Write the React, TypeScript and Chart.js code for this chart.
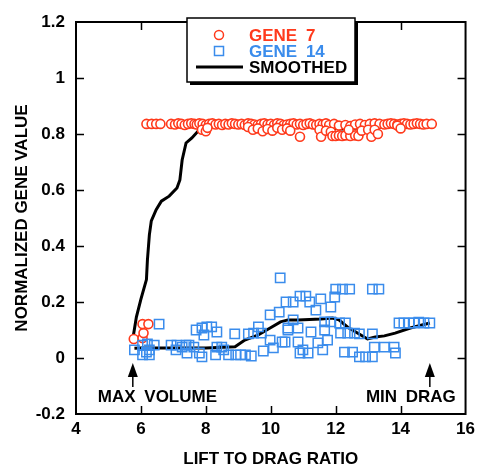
import React, { useEffect, useRef } from 'react';
import { Chart, registerables } from 'chart.js';

Chart.register(...registerables);

const RED = '#ff3a1c';
const BLUE = '#3a8cec';
const FONT = '"Liberation Sans", Arial, Helvetica, sans-serif';

// GENE 7 (red circles)
const gene7X = [
  5.78, 6.05, 6.08, 6.05, 6.23,
  6.17, 6.33, 6.47, 6.6,
  6.93, 7.05, 7.15, 7.25, 7.35, 7.45, 7.55, 7.65, 7.72, 7.8, 7.9, 8.0, 8.1, 8.2, 8.3, 8.4,
  8.5, 8.6, 8.7, 8.8, 8.9, 9.0, 9.1, 9.2, 9.3, 9.4, 9.5, 9.6, 9.7, 9.8, 9.9, 10.0,
  10.1, 10.2, 10.3, 10.4, 10.5, 10.6, 10.7, 10.8, 10.9, 11.0, 11.1, 11.2, 11.3, 11.4,
  11.5, 11.6, 11.7, 11.8, 11.95, 12.1, 12.3, 12.45, 12.6, 12.75, 12.9, 13.05, 13.2,
  13.35, 13.5, 13.6, 13.7, 13.8, 13.9, 14.0, 14.1, 14.2, 14.3, 14.4, 14.5, 14.6, 14.7,
  14.8, 14.96,
  7.88, 8.0, 8.05, 9.3, 9.45, 9.6, 9.75, 9.9, 10.05, 10.2, 10.35, 10.5, 10.6, 10.9,
  11.5, 11.55, 11.7, 11.85, 11.9, 12.0, 12.1, 12.2, 12.3, 12.45, 12.6, 12.7, 12.4,
  12.8, 13.0, 13.1, 13.2, 13.3, 13.9, 14.0,
];
const gene7Y = [
  0.068, 0.071, 0.089, 0.121, 0.121,
  0.836, 0.836, 0.836, 0.836,
  0.836, 0.834, 0.838, 0.836, 0.832, 0.836, 0.838, 0.836, 0.834, 0.838, 0.836, 0.832, 0.836, 0.838, 0.834, 0.836,
  0.832, 0.836, 0.834, 0.838, 0.836, 0.834, 0.836, 0.832, 0.838, 0.836, 0.834, 0.832, 0.836, 0.838, 0.834, 0.836,
  0.832, 0.838, 0.836, 0.832, 0.834, 0.836, 0.838, 0.834, 0.836, 0.832, 0.836, 0.838, 0.834, 0.832,
  0.836, 0.834, 0.838, 0.832, 0.836, 0.83, 0.832, 0.828, 0.834, 0.836, 0.832, 0.836, 0.838,
  0.836, 0.834, 0.836, 0.838, 0.836, 0.834, 0.836, 0.838, 0.836, 0.834, 0.836, 0.838, 0.836, 0.834,
  0.836, 0.836,
  0.815, 0.81, 0.822, 0.825, 0.815, 0.82, 0.81, 0.818, 0.812, 0.822, 0.815, 0.82, 0.812, 0.79,
  0.815, 0.79, 0.812, 0.808, 0.793, 0.793, 0.795, 0.793, 0.795, 0.793, 0.795, 0.793, 0.815,
  0.812, 0.815, 0.79, 0.815, 0.8, 0.83, 0.82,
];

// GENE 14 (blue squares)
const gene14X = [
  5.8, 6.05, 6.05, 6.17, 6.2, 6.26, 6.26, 6.41, 6.56, 6.93, 7.08, 7.11, 7.27, 7.39, 7.42,
  7.48, 7.63, 7.7, 7.8, 7.88, 7.88, 7.94, 8.03, 8.18, 8.3, 8.34, 8.34, 8.49, 8.55, 8.7,
  8.89, 8.92, 9.07, 9.22, 9.31, 9.4, 9.47, 9.62, 9.71, 9.77, 9.98, 9.98, 10.08, 10.26,
  10.29, 10.35, 10.44, 10.47, 10.53, 10.53, 10.69, 10.69, 10.84, 10.84, 10.9, 10.9, 10.99,
  11.08, 11.15, 11.2, 11.24, 11.39, 11.45, 11.54, 11.6, 11.66, 11.66, 11.75, 11.85, 11.85,
  11.97, 12.0, 12.12, 12.15, 12.21, 12.27, 12.3, 12.37, 12.43, 12.52, 12.58, 12.73, 12.73,
  12.92, 13.13, 13.13, 13.13, 13.19, 13.33, 13.5, 13.8, 13.84, 13.95, 14.1, 14.26, 14.41,
  14.56, 14.72, 14.9,
];
const gene14Y = [
  0.029, 0.046, 0.011, 0.021, 0.05, 0.029, 0.011, 0.046, 0.121, 0.046, 0.029, 0.046, 0.039, 0.046, 0.018,
  0.046, 0.039, 0.1, 0.018, 0.107, 0.004, 0.082, 0.111, 0.111, 0.011, 0.093, 0.039, 0.039, 0.029, 0.011,
  0.086, 0.011, 0.011, 0.011, 0.086, 0.007, 0.089, 0.111, 0.089, 0.025, 0.154, 0.064, 0.036, 0.164,
  0.286, 0.057, 0.057, 0.2, 0.1, 0.107, 0.2, 0.136, 0.107, 0.057, 0.221, 0.018, 0.029,
  0.221, 0.018, 0.2, 0.093, 0.171, 0.054, 0.211, 0.029, 0.129, 0.1, 0.064, 0.182, 0.129,
  0.218, 0.246, 0.125, 0.089, 0.246, 0.021, 0.125, 0.089, 0.246, 0.021, 0.089, 0.086, 0.004,
  0.004, 0.246, 0.086, 0.004, 0.039, 0.246, 0.039, 0.039, 0.018, 0.125, 0.125, 0.125, 0.125,
  0.128, 0.125, 0.125,
];

// SMOOTHED (two branches)
const smoothUpperX = [5.77, 5.86, 6.0, 6.17, 6.2, 6.26, 6.32, 6.47, 6.63, 6.87, 7.11, 7.2, 7.27, 7.39, 7.57, 7.79, 8.0, 9.0, 10.0, 11.0, 11.6, 12.2, 12.8, 13.5, 14.9];
const smoothUpperY = [0.082, 0.146, 0.21, 0.28, 0.35, 0.44, 0.49, 0.53, 0.56, 0.578, 0.607, 0.636, 0.707, 0.768, 0.786, 0.814, 0.83, 0.834, 0.832, 0.83, 0.823, 0.818, 0.822, 0.832, 0.836];
const smoothLowerX = [5.8, 6.0, 7.0, 8.0, 8.9, 9.2, 9.6, 9.98, 10.3, 10.53, 10.84, 11.54, 11.9, 12.1, 12.37, 12.67, 12.98, 13.22, 13.5, 13.83, 14.3, 14.9];
const smoothLowerY = [0.035, 0.036, 0.036, 0.036, 0.04, 0.064, 0.082, 0.107, 0.129, 0.136, 0.136, 0.139, 0.143, 0.136, 0.11, 0.089, 0.068, 0.075, 0.079, 0.089, 0.107, 0.125];

// Axis ticks
const xTicks = [4, 6, 8, 10, 12, 14, 16];
const yTicks = [-0.2, 0, 0.2, 0.4, 0.6, 0.8, 1, 1.2];

// Annotations
const annotationTexts = ['MAX VOLUME', 'MIN DRAG'];
const annotationX = [5.75, 14.9];

const legendLabels = ['GENE 7', 'GENE 14', 'SMOOTHED'];

const zip = (xs: number[], ys: number[]) => xs.map((x, i) => ({ x, y: ys[i] }));

const framePlugin = {
  id: 'frame',
  afterDraw(chart: any) {
    const { ctx, chartArea: a, scales } = chart;
    const xs = scales.x, ys = scales.y;
    ctx.save();
    ctx.strokeStyle = '#000';
    ctx.lineWidth = 1.5;
    const tl = 8;
    ctx.beginPath();
    xTicks.forEach((v) => {
      const px = Math.round(xs.getPixelForValue(v)) + 0.5;
      if (v === 4 || v === 16) return;
      ctx.moveTo(px, a.bottom); ctx.lineTo(px, a.bottom - tl);
      ctx.moveTo(px, a.top); ctx.lineTo(px, a.top + tl);
    });
    yTicks.forEach((v) => {
      const py = Math.round(ys.getPixelForValue(v)) + 0.5;
      if (v === -0.2 || v === 1.2) return;
      ctx.moveTo(a.left, py); ctx.lineTo(a.left + tl, py);
      ctx.moveTo(a.right, py); ctx.lineTo(a.right - tl, py);
    });
    ctx.stroke();
    ctx.lineWidth = 2;
    ctx.strokeRect(a.left, a.top, a.right - a.left, a.bottom - a.top);

    // annotations with arrows
    ctx.fillStyle = '#000';
    ctx.font = `bold 17px ${FONT}`;
    ctx.textBaseline = 'middle';
    try { (ctx as any).wordSpacing = '4px'; } catch (e) {}
    annotationX.forEach((v, i) => {
      const px = xs.getPixelForValue(v);
      const tip = ys.getPixelForValue(-0.018);
      ctx.beginPath();
      ctx.moveTo(px, tip);
      ctx.lineTo(px - 5, tip + 14);
      ctx.lineTo(px + 5, tip + 14);
      ctx.closePath();
      ctx.fill();
      ctx.lineWidth = 1.5;
      ctx.beginPath();
      ctx.moveTo(px, tip + 13);
      ctx.lineTo(px, tip + 24);
      ctx.stroke();
      const ty = ys.getPixelForValue(-0.139);
      if (i === 0) {
        ctx.textAlign = 'left';
        ctx.fillText(annotationTexts[i], px - 35, ty);
      } else {
        ctx.textAlign = 'right';
        ctx.fillText(annotationTexts[i], px + 26, ty);
      }
    });

    // legend box
    const bx = 187, by = 18, bw = 168, bh = 64;
    ctx.fillStyle = '#000';
    ctx.fillRect(bx + 3, by + 3, bw, bh);
    ctx.fillStyle = '#fff';
    ctx.fillRect(bx, by, bw, bh);
    ctx.lineWidth = 1.5;
    ctx.strokeStyle = '#000';
    ctx.strokeRect(bx, by, bw, bh);
    ctx.strokeStyle = RED;
    ctx.lineWidth = 1.5;
    ctx.beginPath();
    ctx.arc(219, 35, 4.5, 0, Math.PI * 2);
    ctx.stroke();
    ctx.strokeStyle = BLUE;
    ctx.strokeRect(214.5, 46.5, 9, 9);
    ctx.strokeStyle = '#000';
    ctx.lineWidth = 3;
    ctx.beginPath();
    ctx.moveTo(196, 67);
    ctx.lineTo(243, 67);
    ctx.stroke();
    ctx.textAlign = 'left';
    ctx.textBaseline = 'middle';
    ctx.font = `bold 17px ${FONT}`;
    const colors = [RED, BLUE, '#000'];
    legendLabels.forEach((t, i) => {
      ctx.fillStyle = colors[i];
      ctx.fillText(t, 249, 36 + i * 16);
    });
    ctx.restore();
  },
};

export default function App() {
  const ref = useRef<HTMLCanvasElement>(null);
  useEffect(() => {
    if (!ref.current) return;
    const smoothData = [
      ...zip(smoothUpperX, smoothUpperY),
      { x: 14.95, y: null as any },
      ...zip(smoothLowerX, smoothLowerY),
    ];
    const chart = new Chart(ref.current, {
      type: 'scatter',
      data: {
        datasets: [
          {
            label: 'GENE 14',
            data: zip(gene14X, gene14Y),
            pointStyle: 'rect',
            pointRadius: 6.6,
            pointBorderWidth: 1.5,
            borderColor: BLUE,
            backgroundColor: 'rgba(0,0,0,0)',
            order: 0,
          },
          {
            label: 'GENE 7',
            data: zip(gene7X, gene7Y),
            pointStyle: 'circle',
            pointRadius: 4.5,
            pointBorderWidth: 1.6,
            borderColor: RED,
            backgroundColor: '#fff',
            order: 1,
          },
          {
            type: 'line',
            label: 'SMOOTHED',
            data: smoothData,
            borderColor: '#000',
            borderWidth: 3,
            pointRadius: 0,
            tension: 0,
            fill: false,
            spanGaps: false,
            order: 2,
          } as any,
        ],
      },
      options: {
        animation: false,
        responsive: false,
        devicePixelRatio: 1,
        layout: { padding: { left: 0, top: 22, right: 11, bottom: 0 } },
        plugins: { legend: { display: false }, tooltip: { enabled: false } },
        scales: {
          x: {
            type: 'linear',
            min: 4,
            max: 16,
            afterFit: (s: any) => { s.height = 50; },
            afterBuildTicks: (s: any) => { s.ticks = xTicks.map((v) => ({ value: v })); },
            ticks: {
              color: '#000',
              font: { family: FONT, size: 17, weight: 'bold' },
              padding: 5,
              maxRotation: 0,
              autoSkip: false,
            },
            grid: { display: false, drawTicks: false },
            border: { display: false },
            title: {
              display: true,
              text: 'LIFT TO DRAG RATIO',
              color: '#000',
              font: { family: FONT, size: 17, weight: 'bold', lineHeight: 1 },
              padding: { top: 0, bottom: -4 },
            },
          },
          y: {
            type: 'linear',
            min: -0.2,
            max: 1.2,
            afterFit: (s: any) => { s.width = 76; },
            afterBuildTicks: (s: any) => { s.ticks = yTicks.map((v) => ({ value: v })); },
            ticks: {
              color: '#000',
              font: { family: FONT, size: 17, weight: 'bold' },
              padding: 11,
              autoSkip: false,
              callback: (v: any) => String(parseFloat(Number(v).toFixed(1))),
            },
            grid: { display: false, drawTicks: false },
            border: { display: false },
            title: {
              display: true,
              text: 'NORMALIZED GENE VALUE',
              color: '#000',
              font: { family: FONT, size: 17, weight: 'bold', lineHeight: 1 },
              padding: { top: 14, bottom: 0 },
            },
          },
        },
      },
      plugins: [framePlugin],
    });
    return () => chart.destroy();
  }, []);
  return (
    <div style={{ position: 'absolute', left: 0, top: 0, width: 480, height: 464 }}>
      <canvas ref={ref} width={480} height={464} />
    </div>
  );
}
